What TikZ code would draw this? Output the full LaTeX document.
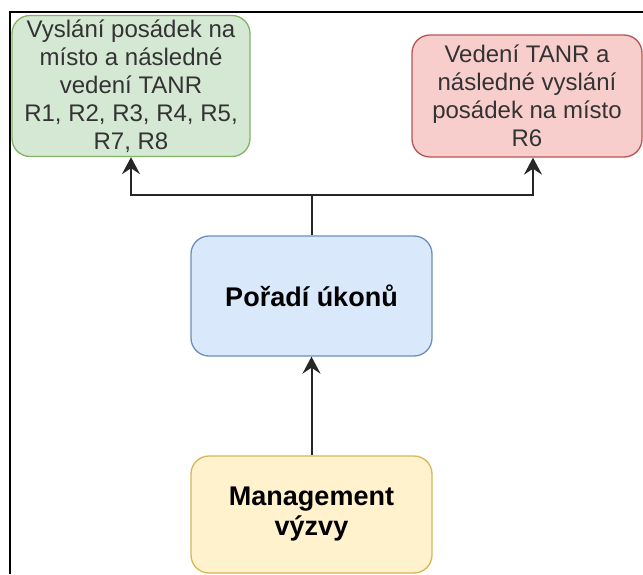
\documentclass[tikz,border=0pt]{standalone}
\usepackage{fontspec}
\setmainfont{Liberation Sans}
\usetikzlibrary{arrows.meta,calc}

\definecolor{greenfill}{HTML}{D5E8D4}
\definecolor{greendraw}{HTML}{82B366}
\definecolor{redfill}{HTML}{F8CECC}
\definecolor{reddraw}{HTML}{B85450}
\definecolor{bluefill}{HTML}{DAE8FC}
\definecolor{bluedraw}{HTML}{6C8EBF}
\definecolor{yellowfill}{HTML}{FFF2CC}
\definecolor{yellowdraw}{HTML}{D6B656}

\begin{document}
\begin{tikzpicture}[x=1pt,y=-1pt,>={Stealth[length=17pt,width=18pt,inset=6pt]}]
\tikzset{box/.style = {shape=rectangle,draw,rounded corners=18pt,line width=1.3pt,align=center,inner sep=0pt}}
\tikzset{plain/.style = {box,text=black!80,font=\fontsize{24}{28}\selectfont}}
\tikzset{bold/.style = {box,text=black,font=\fontsize{27}{30}\selectfont\bfseries}}
\tikzset{wire/.style = {line width=2pt,draw=black!85}}
\tikzset{link/.style = {wire,->}}
\useasboundingbox (0,0) rectangle (643,574);

% frame
\draw[line width=2.2pt] (10,574) -- (10,12) -- (643,12);

\node[plain,fill=greenfill,draw=greendraw,minimum width=238pt,minimum height=141pt] (vyslani) at (131,86)
  {Vyslání posádek na\\místo a následné\\vedení TANR\\R1, R2, R3, R4, R5,\\R7, R8};
\node[plain,fill=redfill,draw=reddraw,minimum width=230pt,minimum height=122pt] (vedeni) at (527,96)
  {Vedení TANR a\\následné vyslání\\posádek na místo\\R6};
\node[bold,fill=bluefill,draw=bluedraw,minimum width=241pt,minimum height=120pt] (poradi) at (311.5,296)
  {Pořadí úkonů};
\node[bold,fill=yellowfill,draw=yellowdraw,minimum width=241pt,minimum height=117pt] (management) at (311.5,514.5)
  {Management\\výzvy};

\coordinate (split) at ($(poradi.north)+(0,-40)$);
\coordinate (vedeniend) at ($(vedeni.south)+(6,0)$);

\draw[link] (management) -- (poradi);
\draw[wire] (poradi.north) -- (split);
\foreach \to in {vyslani.south, vedeniend}
\draw [link] (split) -| (\to);
\end{tikzpicture}
\end{document}
